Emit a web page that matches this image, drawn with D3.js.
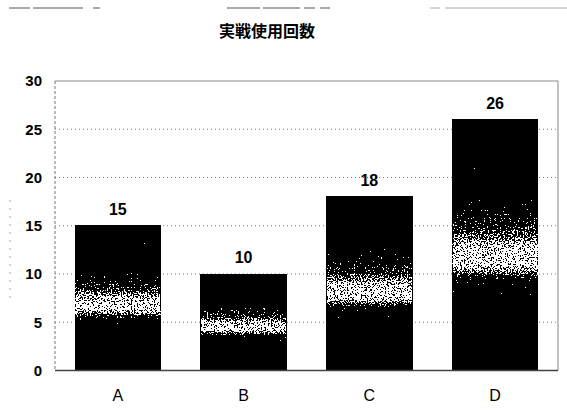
<!DOCTYPE html>
<html>
<head>
<meta charset="utf-8">
<script src="https://cdn.jsdelivr.net/npm/d3@7"></script>
<style>
  html, body { margin: 0; padding: 0; background: #fff; }
  svg { display: block; }
</style>
</head>
<body>
<script>
// Chart data
const title = "実戦使用回数";
const categories = ["A", "B", "C", "D"];
const values = [15, 10, 18, 26];
const yTicks = [0, 5, 10, 15, 20, 25, 30];

const W = 567, H = 416;
const plot = { left: 55, right: 558, top: 81, bottom: 370.5 };

const svg = d3.select("body").append("svg")
  .attr("width", W).attr("height", H);

const defs = svg.append("defs");

// Vertical shading for the bars: dark at both ends, light in the middle
const grad = defs.append("linearGradient")
  .attr("id", "barShade")
  .attr("x1", 0).attr("y1", 0).attr("x2", 0).attr("y2", 1);
[[0, "#000"], [0.26, "#000"], [0.34, "#505050"], [0.44, "#999"], [0.5, "#eee"], [0.58, "#fff"],
 [0.61, "#c0c0c0"], [0.64, "#555"], [0.7, "#2a2a2a"], [0.74, "#000"], [1, "#000"]]
  .forEach(([o, c]) => grad.append("stop").attr("offset", o).attr("stop-color", c));

// Grain: add noise to the shading, then threshold to black/white speckles
const f = defs.append("filter").attr("id", "grain")
  .attr("x", 0).attr("y", 0).attr("width", 1).attr("height", 1)
  .attr("color-interpolation-filters", "sRGB");
f.append("feTurbulence").attr("type", "fractalNoise")
  .attr("baseFrequency", 0.7).attr("numOctaves", 2).attr("seed", 11).attr("result", "noise");
f.append("feColorMatrix").attr("in", "noise").attr("type", "matrix")
  .attr("values", "0.33 0.33 0.33 0 0  0.33 0.33 0.33 0 0  0.33 0.33 0.33 0 0  0 0 0 0 1")
  .attr("result", "gnoise");
f.append("feComposite").attr("in", "SourceGraphic").attr("in2", "gnoise")
  .attr("operator", "arithmetic").attr("k1", 0).attr("k2", 1).attr("k3", 3.2).attr("k4", -1.9)
  .attr("result", "mix");
const ct = f.append("feComponentTransfer").attr("in", "mix");
["R", "G", "B"].forEach(ch => ct.append("feFunc" + ch).attr("type", "discrete").attr("tableValues", "0 1"));

const x = d3.scaleBand()
  .domain(categories)
  .range([plot.left, plot.right])
  .paddingInner(0.32)
  .paddingOuter(0.16);

const y = d3.scaleLinear()
  .domain([0, 30])
  .range([plot.bottom, plot.top]);

// Faint remnants of the outer frame
const frameBits = [[9, 30], [33, 83], [93, 100], [227, 260], [263, 300], [304, 315], [320, 330], [430, 440], [445, 567]];
svg.append("g")
  .selectAll("line")
  .data(frameBits)
  .join("line")
  .attr("x1", d => d[0]).attr("x2", d => d[1])
  .attr("y1", 8).attr("y2", 8)
  .attr("stroke", (d, i) => i > 6 ? "#aaa" : "#555").attr("stroke-width", 1);
svg.append("line")
  .attr("x1", 10).attr("x2", 10).attr("y1", 200).attr("y2", 300)
  .attr("stroke", "#aaa").attr("stroke-width", 1)
  .attr("stroke-dasharray", "2 6");

// Gridlines
svg.append("g")
  .selectAll("line")
  .data(yTicks.filter(t => t > 0 && t < 30))
  .join("line")
  .attr("x1", plot.left).attr("x2", plot.right)
  .attr("y1", d => y(d)).attr("y2", d => y(d))
  .attr("stroke", "#777").attr("stroke-width", 1)
  .attr("stroke-dasharray", "1 3");

// Plot frame
svg.append("line")
  .attr("x1", plot.left).attr("x2", plot.right)
  .attr("y1", y(30)).attr("y2", y(30))
  .attr("stroke", "#888").attr("stroke-width", 1);
svg.append("line")
  .attr("x1", plot.right).attr("x2", plot.right)
  .attr("y1", plot.top).attr("y2", plot.bottom)
  .attr("stroke", "#999").attr("stroke-width", 1.2);
svg.append("line")
  .attr("x1", plot.left).attr("x2", plot.left)
  .attr("y1", plot.top).attr("y2", plot.bottom)
  .attr("stroke", "#777").attr("stroke-width", 1)
  .attr("stroke-dasharray", "3 2");

// Bars
svg.append("g")
  .selectAll("rect")
  .data(values)
  .join("rect")
  .attr("x", (d, i) => x(categories[i]))
  .attr("y", d => y(d))
  .attr("width", x.bandwidth())
  .attr("height", d => y(0) - y(d))
  .attr("fill", "url(#barShade)")
  .attr("filter", "url(#grain)");

// Baseline
svg.append("line")
  .attr("x1", plot.left).attr("x2", plot.right)
  .attr("y1", y(0)).attr("y2", y(0))
  .attr("stroke", "#444").attr("stroke-width", 1.5);

// Y axis labels
const yAxis = d3.axisLeft(y).tickValues(yTicks).tickSize(0).tickPadding(13);
const gy = svg.append("g").attr("transform", `translate(${plot.left},0)`).call(yAxis);
gy.select(".domain").remove();
gy.selectAll("text")
  .attr("font-family", "Liberation Sans, Arial, sans-serif")
  .attr("font-size", 15).attr("font-weight", "bold").attr("fill", "#000");

// X axis labels
const xAxis = d3.axisBottom(x).tickSize(0).tickPadding(19);
const gx = svg.append("g").attr("transform", `translate(0,${plot.bottom})`).call(xAxis);
gx.select(".domain").remove();
gx.selectAll("text")
  .attr("font-family", "Liberation Sans, Arial, sans-serif")
  .attr("font-size", 16).attr("fill", "#000");

// Value labels
svg.append("g")
  .selectAll("text")
  .data(values)
  .join("text")
  .attr("x", (d, i) => x(categories[i]) + x.bandwidth() / 2)
  .attr("y", d => y(d) - 11)
  .attr("text-anchor", "middle")
  .attr("font-family", "Liberation Sans, Arial, sans-serif")
  .attr("font-size", 16).attr("font-weight", "bold")
  .text(d => d);

// Title
svg.append("text")
  .attr("x", 267).attr("y", 37)
  .attr("text-anchor", "middle")
  .attr("font-family", "Noto Sans CJK JP, sans-serif")
  .attr("font-size", 16).attr("font-weight", "bold")
  .text(title);
</script>
</body>
</html>
